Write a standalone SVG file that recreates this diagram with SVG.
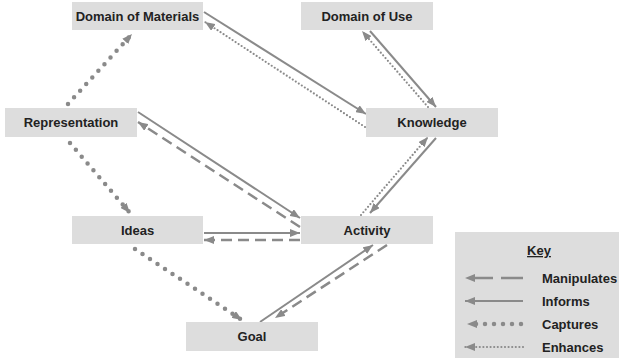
<svg xmlns="http://www.w3.org/2000/svg" width="623" height="360" viewBox="0 0 623 360">
<style>
.box{fill:#dddddd}
.lbl{font-family:"Liberation Sans",Arial,sans-serif;font-weight:bold;font-size:13px;fill:#222222;text-anchor:middle}
.klbl{font-family:"Liberation Sans",Arial,sans-serif;font-weight:bold;font-size:13px;fill:#222222}
.c{fill:none;stroke:#8a8a8a}
.inf{stroke-width:2}
.man{stroke-width:2.5;stroke-dasharray:11 6}
.cap{stroke-width:4.5;stroke-linecap:round;stroke-dasharray:0 9}
.enh{stroke-width:2.2;stroke-linecap:round;stroke-dasharray:0 3.6}
</style>
<defs>
<marker id="ah" markerUnits="userSpaceOnUse" viewBox="0 0 10 8" refX="10" refY="4" markerWidth="10" markerHeight="8" orient="auto">
<path d="M0,0 L10,4 L0,8 z" fill="#8a8a8a"/>
</marker>
</defs>
<rect width="623" height="360" fill="#ffffff"/>
<g id="connectors">
<line class="c inf" x1="204" y1="12" x2="366" y2="114" marker-end="url(#ah)"/>
<line class="c enh" x1="365" y1="127" x2="205" y2="22" marker-end="url(#ah)"/>
<line class="c inf" x1="370" y1="31" x2="436" y2="107" marker-end="url(#ah)"/>
<line class="c enh" x1="428" y1="107" x2="362" y2="31" marker-end="url(#ah)"/>
<line class="c cap" x1="68" y1="104" x2="132" y2="34" marker-end="url(#ah)"/>
<line class="c cap" x1="70" y1="143" x2="130" y2="213" marker-end="url(#ah)"/>
<line class="c inf" x1="138" y1="112" x2="300" y2="218" marker-end="url(#ah)"/>
<line class="c man" x1="300" y1="227" x2="138" y2="122" marker-end="url(#ah)"/>
<line class="c inf" x1="204" y1="233" x2="300" y2="233" marker-end="url(#ah)"/>
<line class="c man" x1="300" y1="240" x2="204" y2="240" marker-end="url(#ah)"/>
<line class="c enh" x1="361" y1="215" x2="428" y2="137" marker-end="url(#ah)"/>
<line class="c inf" x1="436" y1="138" x2="370" y2="213" marker-end="url(#ah)"/>
<line class="c cap" x1="135" y1="249" x2="242" y2="320" marker-end="url(#ah)"/>
<line class="c inf" x1="260" y1="322" x2="373" y2="245" marker-end="url(#ah)"/>
<line class="c man" x1="387" y1="245" x2="275" y2="318" marker-end="url(#ah)"/>
</g>
<g id="domain-of-materials"><rect class="box" x="72" y="2" width="131" height="28"/><text class="lbl" x="137.5" y="21">Domain of Materials</text></g>
<g id="domain-of-use"><rect class="box" x="301" y="2" width="132" height="28"/><text class="lbl" x="367" y="21">Domain of Use</text></g>
<g id="representation"><rect class="box" x="5" y="108" width="132" height="29"/><text class="lbl" x="71" y="127">Representation</text></g>
<g id="knowledge"><rect class="box" x="366" y="108" width="132" height="29"/><text class="lbl" x="432" y="127">Knowledge</text></g>
<g id="ideas"><rect class="box" x="72" y="216" width="131" height="28"/><text class="lbl" x="137.5" y="235">Ideas</text></g>
<g id="activity"><rect class="box" x="301" y="216" width="132" height="28"/><text class="lbl" x="367" y="235">Activity</text></g>
<g id="goal"><rect class="box" x="186" y="322" width="132" height="29"/><text class="lbl" x="252" y="341">Goal</text></g>
<g id="key">
<rect class="box" x="455" y="232" width="164" height="126"/>
<text class="lbl" x="539" y="255" text-decoration="underline">Key</text>
<line class="c man" x1="523" y1="278" x2="465" y2="278" style="stroke-dasharray:22 8" marker-end="url(#ah)"/>
<text class="klbl" x="542" y="283">Manipulates</text>
<line class="c inf" x1="523" y1="301" x2="465" y2="301" marker-end="url(#ah)"/>
<text class="klbl" x="542" y="306">Informs</text>
<line class="c cap" x1="521" y1="324" x2="467" y2="324" marker-end="url(#ah)"/>
<text class="klbl" x="542" y="329">Captures</text>
<line class="c enh" x1="523" y1="347" x2="465" y2="347" marker-end="url(#ah)"/>
<text class="klbl" x="542" y="352">Enhances</text>
</g>
</svg>
